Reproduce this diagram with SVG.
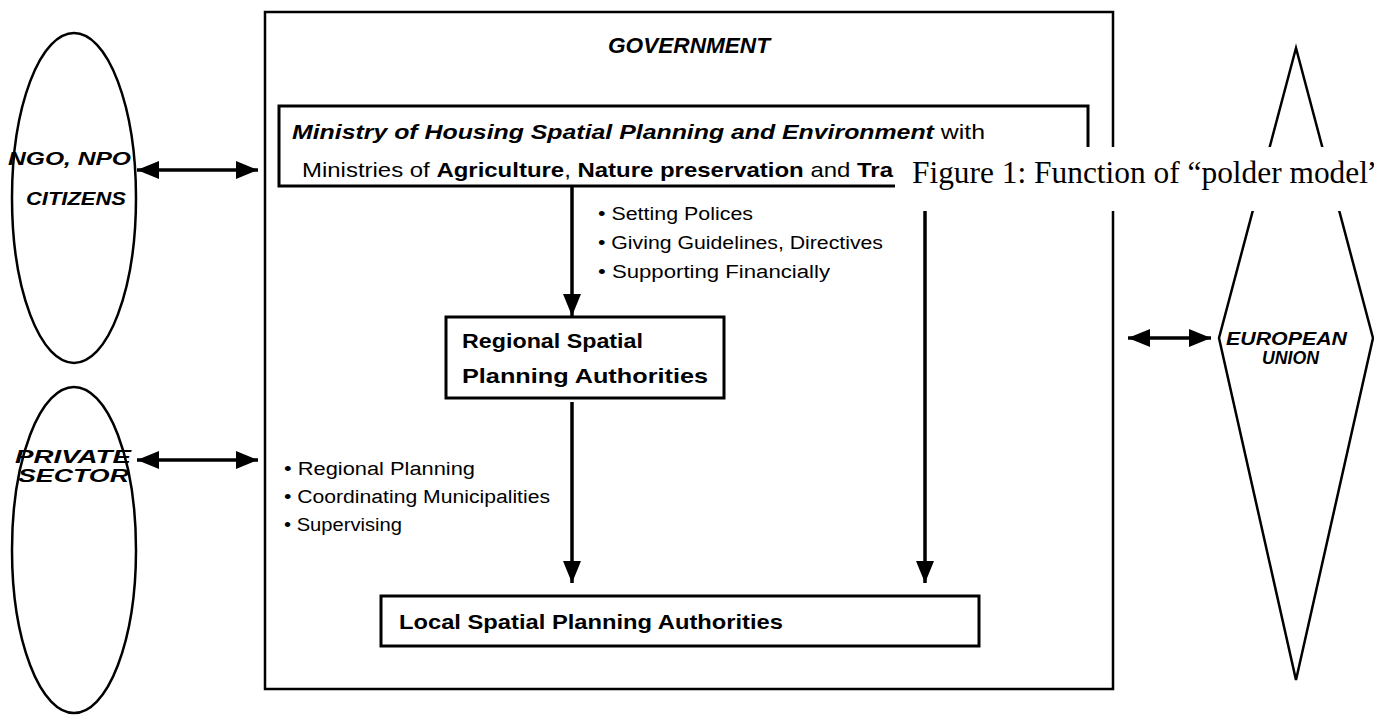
<svg xmlns="http://www.w3.org/2000/svg" width="1374" height="715" viewBox="0 0 1374 715">
<style>
.box{fill:#fff;stroke:#000;stroke-width:3}
.shape{fill:#fff;stroke:#000;stroke-width:2.5}
.ln{stroke:#000;stroke-width:3.5;fill:none}
.t{font-family:"Liberation Sans",Arial,sans-serif;fill:#000}
.bi{font-weight:bold;font-style:italic}
.b{font-weight:bold}
.cap{font-family:"Liberation Serif","Times New Roman",serif;font-size:31.4px;fill:#000}
</style>
<defs>
<marker id="ah" viewBox="0 0 22 18" refX="22" refY="9" markerWidth="22" markerHeight="18" markerUnits="userSpaceOnUse" orient="auto-start-reverse">
<path d="M0,0 L22,9 L0,18 Z" fill="#000"/>
</marker>
</defs>
<rect width="1374" height="715" fill="#fff"/>
<g id="government">
<rect x="265" y="12" width="848" height="677" class="shape"/>
<text x="608" y="53" class="t bi" font-size="22" textLength="162" lengthAdjust="spacingAndGlyphs">GOVERNMENT</text>
</g>
<g id="ngo">
<ellipse cx="74" cy="198" rx="62" ry="165" class="shape"/>
<text x="8" y="165" class="t bi" font-size="19" textLength="123" lengthAdjust="spacingAndGlyphs">NGO, NPO</text>
<text x="26" y="205" class="t bi" font-size="19" textLength="100" lengthAdjust="spacingAndGlyphs">CITIZENS</text>
</g>
<g id="private">
<ellipse cx="74" cy="550" rx="62" ry="163" class="shape"/>
<text x="15" y="463" class="t bi" font-size="19" textLength="116" lengthAdjust="spacingAndGlyphs">PRIVATE</text>
<text x="18" y="482" class="t bi" font-size="19" textLength="111" lengthAdjust="spacingAndGlyphs">SECTOR</text>
</g>
<g id="eu">
<polygon points="1296,48 1373,338 1296,680 1219,338" class="shape"/>
<text x="1226" y="345" class="t bi" font-size="18" textLength="121" lengthAdjust="spacingAndGlyphs">EUROPEAN</text>
<text x="1262" y="364" class="t bi" font-size="18" textLength="57" lengthAdjust="spacingAndGlyphs">UNION</text>
</g>
<g id="ministry">
<rect x="279" y="106" width="809" height="80" class="box"/>
<text x="292" y="139" class="t" font-size="21" textLength="693" lengthAdjust="spacingAndGlyphs"><tspan class="bi">Ministry  of  Housing Spatial Planning and Environment</tspan> with</text>
<text x="302" y="177" class="t" font-size="21" textLength="591" lengthAdjust="spacingAndGlyphs">Ministries  of <tspan class="b">Agriculture</tspan>, <tspan class="b">Nature  preservation</tspan> and <tspan class="b">Tra</tspan></text>
</g>
<g id="regional">
<rect x="446" y="317" width="278" height="81" class="box"/>
<text x="462" y="348" class="t b" font-size="21" textLength="181" lengthAdjust="spacingAndGlyphs">Regional Spatial</text>
<text x="462" y="383" class="t b" font-size="21" textLength="246" lengthAdjust="spacingAndGlyphs">Planning Authorities</text>
</g>
<g id="local">
<rect x="381" y="596" width="598" height="50" class="box"/>
<text x="399" y="629" class="t b" font-size="21" textLength="384" lengthAdjust="spacingAndGlyphs">Local Spatial Planning Authorities</text>
</g>
<g id="connectors">
<line x1="572" y1="186" x2="572" y2="316" class="ln" marker-end="url(#ah)"/>
<line x1="572" y1="402" x2="572" y2="583" class="ln" marker-end="url(#ah)"/>
<line x1="925" y1="186" x2="925" y2="583" class="ln" marker-end="url(#ah)"/>
<line x1="137" y1="170" x2="258" y2="170" class="ln" marker-start="url(#ah)" marker-end="url(#ah)"/>
<line x1="137" y1="460" x2="258" y2="460" class="ln" marker-start="url(#ah)" marker-end="url(#ah)"/>
<line x1="1128" y1="338" x2="1211" y2="338" class="ln" marker-start="url(#ah)" marker-end="url(#ah)"/>
</g>
<g id="labels" class="t" font-size="18">
<text x="598" y="220" textLength="155" lengthAdjust="spacingAndGlyphs">• Setting Polices</text>
<text x="598" y="249" textLength="285" lengthAdjust="spacingAndGlyphs">• Giving Guidelines, Directives</text>
<text x="598" y="278" textLength="232" lengthAdjust="spacingAndGlyphs">• Supporting Financially</text>
<text x="284" y="475" textLength="191" lengthAdjust="spacingAndGlyphs">•  Regional Planning</text>
<text x="284" y="503" textLength="266" lengthAdjust="spacingAndGlyphs">• Coordinating Municipalities</text>
<text x="284" y="531" textLength="118" lengthAdjust="spacingAndGlyphs">• Supervising</text>
</g>
<g id="caption">
<rect x="895" y="147" width="479" height="64" fill="#fff"/>
<text x="912" y="183" class="cap">Figure 1: Function of “polder model”</text>
</g>
</svg>
